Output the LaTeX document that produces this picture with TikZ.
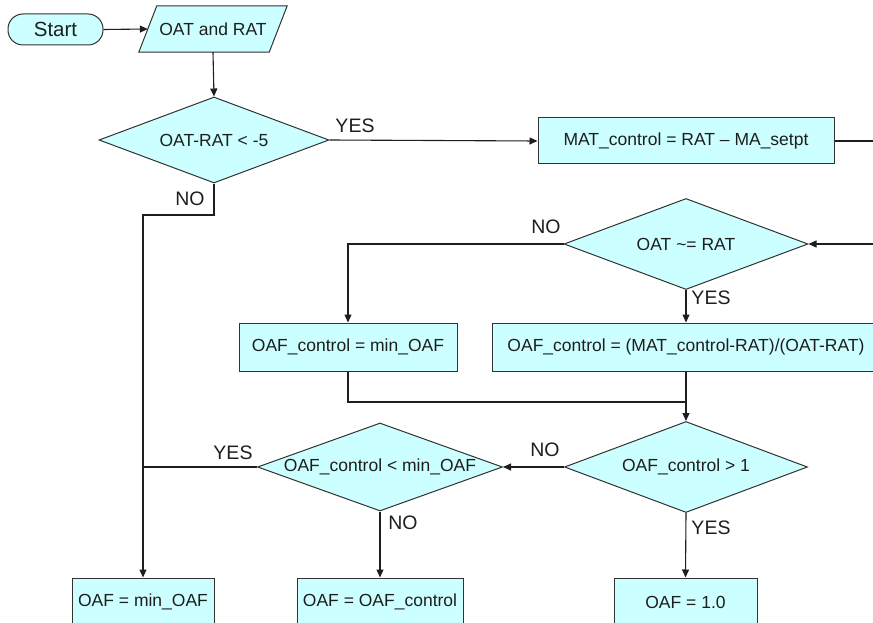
\documentclass[tikz,border=0pt]{standalone}
\usepackage{fontspec}
\setmainfont{Liberation Sans}
\usetikzlibrary{shapes.geometric,arrows.meta,calc}
\definecolor{boxfill}{RGB}{204,255,255}
\definecolor{edge}{RGB}{50,50,50}
\definecolor{ink}{RGB}{30,30,30}
\tikzset{
  every node/.style={text=ink},
  procbox/.style={draw=edge, fill=boxfill, line width=1pt, rectangle, inner sep=0pt,
    font=\fontsize{17.5}{20}\selectfont},
  decbox/.style={draw=edge, fill=boxfill, line width=1pt, diamond, inner sep=0pt},
  dectext/.style={font=\fontsize{17.5}{20}\selectfont, inner sep=0pt},
  lbl/.style={font=\fontsize{19.5}{22}\selectfont, inner sep=0pt},
  conn/.style={draw=ink, line width=1.1pt},
  arr/.style={conn, -{Triangle[length=8pt,width=7pt]}},
}
\begin{document}
\begin{tikzpicture}[x=1pt,y=-1pt]
\useasboundingbox (0,0) rectangle (873,623);
\clip (0,0) rectangle (873,623);
\fill[white] (0,0) rectangle (873,623);

% terminal and input
\node[procbox, rounded corners=15pt, minimum width=95pt, minimum height=31pt,
      font=\fontsize{20.5}{23}\selectfont] (start) at (55.5,29.5) {Start};
\node[minimum width=130pt, minimum height=46pt, inner sep=0pt] (para) at (213,29) {};
\filldraw[draw=edge, fill=boxfill, line width=1pt]
  ($(para.north west)+(9,0)$) -- ($(para.north east)+(9,0)$) --
  ($(para.south east)+(-9,0)$) -- ($(para.south west)+(-9,0)$) -- cycle;
\node[font=\fontsize{17.5}{20}\selectfont, inner sep=0pt] (paratext) at (para.center) {OAT and RAT};

% decisions
\node[decbox, minimum width=230pt, minimum height=86pt] (d1) at (214,140) {};
\node[dectext] (d1t) at (d1.center) {OAT-RAT < -5};
\node[decbox, minimum width=244pt, minimum height=91pt] (d2) at (686,244) {};
\node[dectext] (d2t) at (d2.center) {OAT \textasciitilde= RAT};
\node[decbox, minimum width=243pt, minimum height=91pt] (d3) at (686,467) {};
\node[dectext] (d3t) at (d3.center) {OAF\_control > 1};
\node[decbox, minimum width=245pt, minimum height=88pt] (d4) at (380,467) {};
\node[dectext] (d4t) at (d4.center) {OAF\_control < min\_OAF};

% process boxes
\node[procbox, minimum width=296pt, minimum height=46pt] (mat) at (686,141) {MAT\_control = RAT – MA\_setpt};
\node[procbox, minimum width=218pt, minimum height=48pt] (b3) at (348,347) {OAF\_control = min\_OAF};
\node[procbox, minimum width=388pt, minimum height=48pt] (b4) at (686,347) {OAF\_control = (MAT\_control-RAT)/(OAT-RAT)};
\node[procbox, minimum width=142pt, minimum height=48pt] (b5) at (143,602) {OAF = min\_OAF};
\node[procbox, minimum width=166pt, minimum height=48pt] (b6) at (380,602) {OAF = OAF\_control};
\node[procbox, minimum width=143pt, minimum height=48pt] (b7) at (685.5,602) {OAF = 1.0};

% helper coordinates
\coordinate (r1) at (880,141);
\coordinate (r2) at (880,244);
\coordinate (j1) at (686,402);
\coordinate (k1) at (143,215);

% connectors
\draw[arr] (start.east) -- (para.west);
\draw[arr] (para.south) -- (d1.north);
\draw[arr] (d1.east) -- (mat.west);
\draw[conn] (mat.east) -- (r1);
\draw[arr] (r2) -- (d2.east);
\draw[arr] (d2.west) -| (b3.north);
\draw[arr] (d2.south) -- (b4.north);
\draw[conn] (b3.south) |- (j1);
\draw[arr] (b4.south) -- (d3.north);
\draw[arr] (d3.west) -- (d4.east);
\draw[conn] (d4.west) -- (d4.west -| k1);
\draw[arr] (d1.south) |- (k1) -- (b5.north);
\draw[arr] (d4.south) -- (b6.north);
\draw[arr] (d3.south) -- (b7.north);

% labels
\node[lbl] (yes1) at (355,126) {YES};
\node[lbl] (no1) at (190,199) {NO};
\node[lbl] (no2) at (546,227) {NO};
\node[lbl] (yes2) at (711,298) {YES};
\node[lbl] (no3) at (545,450) {NO};
\node[lbl] (yes3) at (233,453) {YES};
\node[lbl] (no4) at (403,523) {NO};
\node[lbl] (yes4) at (711,528) {YES};
\end{tikzpicture}
\end{document}
